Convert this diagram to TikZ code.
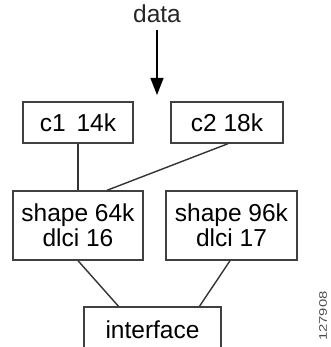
\documentclass[tikz,border=0pt]{standalone}
\usepackage{fontspec}
\setmainfont{Liberation Sans}
\usetikzlibrary{positioning,arrows.meta}

\begin{document}
\begin{tikzpicture}[
      x=1pt, y=-1pt,
      box/.style = {rectangle, draw=black!75, line width=1.4pt,
                    align=center, inner sep=0pt,
                    font=\fontsize{24.5}{25}\selectfont},
      link/.style = {draw=black!80, line width=1.4pt},
      arrow/.style = {-{Triangle[length=17pt,width=13pt]}, line width=1.4pt}
    ]
    \useasboundingbox (0,0) rectangle (330,347);

    % Nodes
    \node[font=\fontsize{24.5}{25}\selectfont, text=black!85] (data) at (157,14) {data};
    \coordinate (datain) at (157,95);
    \node[box, minimum width=110pt, minimum height=41pt] (c1) at (78,122.5) {c1\, 14k};
    \node[box, minimum width=112pt, minimum height=41pt] (c2) at (227,122.5) {c2 18k};
    \node[box, minimum width=130pt, minimum height=69pt] (shapeA) at (78,225.5) {shape 64k\\dlci 16};
    \node[box, minimum width=131pt, minimum height=69pt] (shapeB) at (231.5,225.5) {shape 96k\\dlci 17};
    \node[box, minimum width=137pt, minimum height=45pt] (iface) at (152.5,329.5) {interface};
    \node[rotate=90, xscale=1.35, transform shape, text=black!70,
          font=\fontsize{11}{11}\selectfont] (figno) at (323,316) {127908};

    % Arrows
    \draw[arrow] ([yshift=-3pt]data.south) -- (datain);
    \draw[link] (c1.south) -- (c1.south |- shapeA.north);
    \draw[link] ([xshift=1pt]c2.south) -- ([xshift=29pt]shapeA.north);
    \draw[link] (shapeA.south) -- ([xshift=-34pt]iface.north);
    \draw[link] ([xshift=-1.5pt]shapeB.south) -- ([xshift=47pt]iface.north);
  \end{tikzpicture}
\end{document}
